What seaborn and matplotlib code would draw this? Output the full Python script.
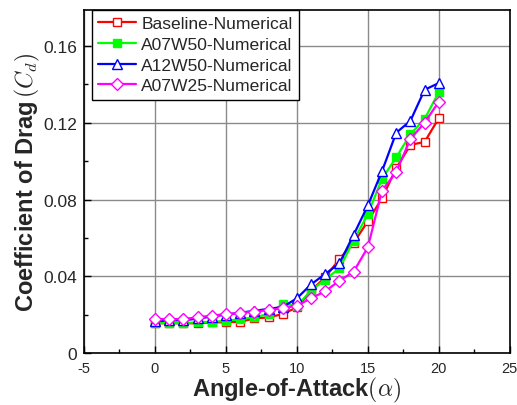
import matplotlib
matplotlib.use("Agg")
import matplotlib.pyplot as plt
import seaborn as sns
import numpy as np
from matplotlib.ticker import MultipleLocator, FuncFormatter

alpha = list(range(0, 21))
baseline = [0.0155, 0.0155, 0.0155, 0.0155, 0.016, 0.016, 0.0163, 0.018, 0.0186, 0.0203,
            0.0238, 0.0325, 0.0395, 0.049, 0.0574, 0.0687, 0.0807, 0.0963, 0.1085, 0.110, 0.1224]
a07w50 = [0.0156, 0.0156, 0.0156, 0.016, 0.0163, 0.0167, 0.0177, 0.0186, 0.0203, 0.0256,
          0.0247, 0.0325, 0.0383, 0.0442, 0.0586, 0.0725, 0.0908, 0.102, 0.114, 0.122, 0.136]
a12w50 = [0.0165, 0.017, 0.017, 0.018, 0.019, 0.020, 0.021, 0.022, 0.023, 0.024,
          0.0285, 0.0358, 0.0412, 0.0468, 0.0616, 0.0769, 0.0948, 0.1148, 0.121, 0.1372, 0.1407]
a07w25 = [0.0177, 0.0177, 0.0177, 0.0186, 0.0195, 0.0203, 0.0209, 0.0216, 0.0224, 0.0233,
          0.0247, 0.0285, 0.0322, 0.0377, 0.0424, 0.0551, 0.0847, 0.0943, 0.1116, 0.120, 0.131]

series = [
    ("Baseline-Numerical", baseline, "#ff0000", "s", "white", 6.0),
    ("A07W50-Numerical", a07w50, "#00ff00", "s", "#00ff00", 6.0),
    ("A12W50-Numerical", a12w50, "#0000ff", "^", "white", 7.0),
    ("A07W25-Numerical", a07w25, "#ff00ff", "D", "white", 6.0),
]

sns.set_style("ticks")
plt.rcParams['font.family'] = ['Liberation Sans', 'DejaVu Sans']
plt.rcParams['mathtext.fontset'] = 'cm'

fig = plt.figure(figsize=(5.17, 4.06), dpi=100)
ax = fig.add_axes([0.1625, 0.128, 0.8235, 0.846])

for name, vals, col, mk, fc, ms in series:
    sns.lineplot(x=alpha, y=vals, ax=ax, color=col, linewidth=1.6, marker=mk,
                 markersize=ms, markerfacecolor=fc, markeredgecolor=col,
                 markeredgewidth=1.0, label=name)

ax.set_xlim(-5, 25)
ax.set_ylim(0, 0.179)
ax.xaxis.set_major_locator(MultipleLocator(5))
ax.xaxis.set_minor_locator(MultipleLocator(2.5))
ax.yaxis.set_major_locator(MultipleLocator(0.04))
ax.yaxis.set_minor_locator(MultipleLocator(0.02))
ax.yaxis.set_major_formatter(FuncFormatter(lambda v, p: '0' if abs(v) < 1e-9 else f'{v:.2f}'))
ax.xaxis.set_major_formatter(FuncFormatter(lambda v, p: f'{int(round(v))}'))
ax.tick_params(which='both', direction='in', color='black')
ax.tick_params(axis='y', which='major', labelsize=12.5, pad=5)
ax.tick_params(axis='x', which='major', labelsize=10.5, pad=6)
ax.tick_params(which='major', length=5, width=1)
ax.tick_params(which='minor', length=3, width=1)
ax.grid(True, which='major', color='#8a8a8a', linewidth=1.0)
ax.set_axisbelow(True)
for s in ax.spines.values():
    s.set_linewidth(1.2)
    s.set_color('black')

ax.set_xlabel(r"Angle-of-Attack$(\alpha)$", fontsize=17, fontweight='bold', labelpad=0)
ax.set_ylabel(r"Coefficient of Drag$\,(C_d)$", fontsize=17, fontweight='bold', labelpad=1)

leg = ax.legend(loc='upper left', bbox_to_anchor=(7.5 / 426, 1.0), fontsize=12.6,
                frameon=True, fancybox=False, edgecolor='black', borderpad=0.35,
                labelspacing=0.32, handlelength=2.2, handletextpad=0.3, borderaxespad=0)
leg.get_frame().set_linewidth(1.0)
leg.get_frame().set_alpha(1)

fig.savefig("out.png", dpi=100)
